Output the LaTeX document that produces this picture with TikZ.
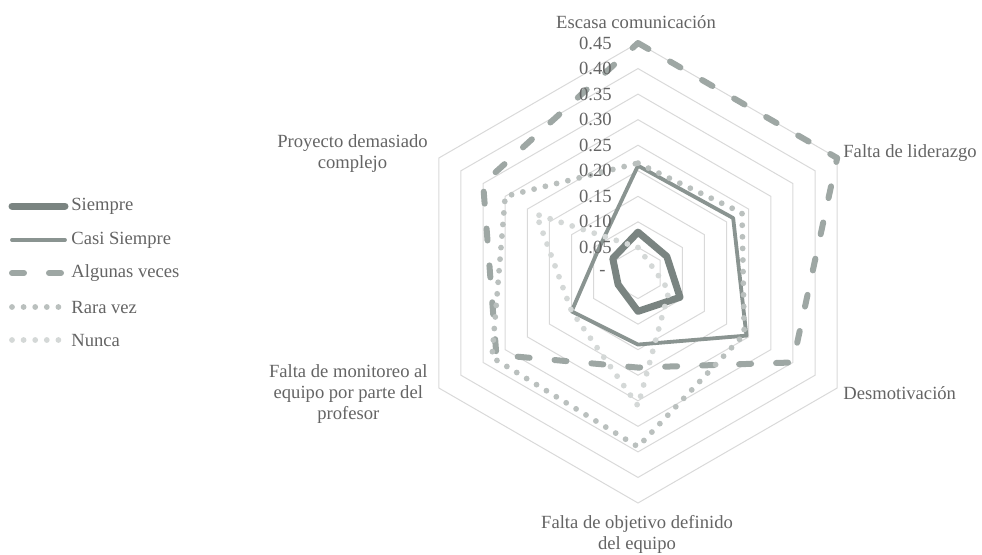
\documentclass[tikz,border=0pt]{standalone}
\usepackage{fontspec}
\setmainfont{Liberation Serif}
\usepackage{tikz}
\usetikzlibrary{calc,positioning}

\definecolor{txtgray}{RGB}{100,100,100}
\definecolor{gridgray}{RGB}{217,217,217}
\definecolor{cSiempre}{RGB}{122,132,129}
\definecolor{cCasi}{RGB}{138,148,145}
\definecolor{cAlgunas}{RGB}{158,167,164}
\definecolor{cRara}{RGB}{186,192,190}
\definecolor{cNunca}{RGB}{212,216,215}

\tikzset{
  gridline/.style={draw=gridgray, line width=0.5pt},
  siempre/.style={draw=cSiempre, line width=3.5pt, line join=round, line cap=round},
  casi/.style={draw=cCasi, line width=1.9pt, line join=round, line cap=round},
  algunas/.style={draw=cAlgunas, line width=3pt, line cap=round, line join=round, dash pattern=on 6pt off 12.5pt},
  rara/.style={draw=cRara, line width=2.9pt, line cap=round, dash pattern=on 0pt off 5.8pt},
  nunca/.style={draw=cNunca, line width=2.9pt, line cap=round, dash pattern=on 0pt off 5.8pt},
  txt/.style={text=txtgray, font=\fontsize{9.3}{10.5}\selectfont, inner sep=0pt},
  axislbl/.style={txt, align=center},
  ticklbl/.style={txt, anchor=east},
}

\begin{document}
\begin{tikzpicture}[x=0.5pt, y=0.5pt]
  \useasboundingbox (0,0) rectangle (982,554);
  \coordinate (C) at (638,281);

  % grid rings and series, in chart units
  \begin{scope}[shift={(C)}, x=255.55pt, y=255.55pt]
    \foreach \r in {0.05,0.1,0.15,0.2,0.25,0.3,0.35,0.4,0.45}
      \draw[gridline] (90:\r) -- (30:\r) -- (-30:\r) -- (-90:\r) -- (210:\r) -- (150:\r) -- cycle;

    \draw[siempre] (90:0.08) -- (30:0.065) -- (-30:0.095) -- (-90:0.075) -- (210:0.045) -- (150:0.057) -- cycle;
    \draw[casi] (90:0.21) -- (30:0.215) -- (-30:0.245) -- (-90:0.14) -- (210:0.15) -- (150:0.09) -- cycle;
    \draw[algunas] (90:0.45) -- (30:0.45) -- (-30:0.35) -- (-90:0.185) -- (210:0.32) -- (150:0.35) -- cycle;
    \draw[rara] (90:0.215) -- (30:0.235) -- (-30:0.24) -- (-90:0.34) -- (210:0.33) -- (150:0.30) -- cycle;
    \draw[nunca] (90:0.05) -- (30:0.03) -- (-30:0.07) -- (-90:0.26) -- (210:0.15) -- (150:0.23) -- cycle;
  \end{scope}

  % value axis
  \node[ticklbl] (t0) at (606,281) {-};
  \foreach \k/\t in {1/0.05,2/0.10,3/0.15,4/0.20,5/0.25,6/0.30,7/0.35,8/0.40,9/0.45}
    \node[ticklbl] (t\k) at (612,{281+25.56*\k}) {\t};

  % category labels
  \node[axislbl] (esc) at (636,532) {Escasa comunicación};
  \node[axislbl, anchor=west] (lid) at (843,401) {Falta de liderazgo};
  \node[axislbl, anchor=west] (des) at (843,161) {Desmotivación};
  \node[axislbl] (obj) at (637,20) {Falta de objetivo definido\\del equipo};
  \node[axislbl, anchor=east] (mon) at (428,160) {Falta de monitoreo al\\equipo por parte del\\profesor};
  \node[axislbl, anchor=east] (pro) at (428,400) {Proyecto demasiado\\complejo};

  % legend
  \foreach \st/\name/\y [count=\i] in {siempre/Siempre/348, casi/Casi Siempre/314,
      algunas/Algunas veces/281, rara/Rara vez/247, nunca/Nunca/214} {
    \coordinate (la\i) at (12,\y);
    \coordinate (lb\i) at (65,\y);
    \draw[\st] (la\i) -- (lb\i);
    \node[txt, right=3pt of lb\i] (leg\i) {\name};
  }
\end{tikzpicture}
\end{document}
